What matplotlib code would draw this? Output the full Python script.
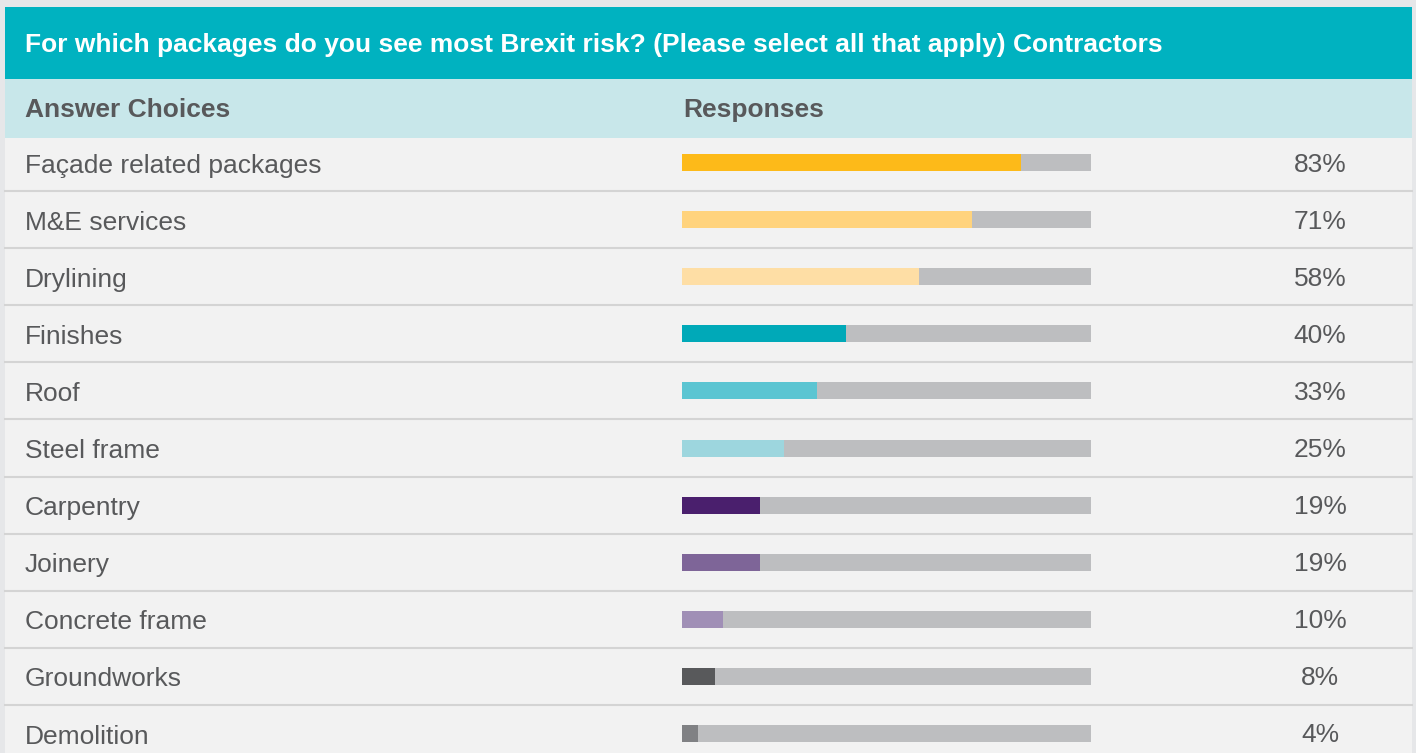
import numpy as np
import matplotlib
matplotlib.use("Agg")
import matplotlib.pyplot as plt
from matplotlib.patches import Rectangle

plt.rcParams['font.family'] = ['Liberation Sans', 'DejaVu Sans']

# data
title = "For which packages do you see most Brexit risk? (Please select all that apply) Contractors"
col_headers = ["Answer Choices", "Responses"]
choices = ["Façade related packages", "M&E services", "Drylining", "Finishes", "Roof",
           "Steel frame", "Carpentry", "Joinery", "Concrete frame", "Groundworks", "Demolition"]
responses = [83, 71, 58, 40, 33, 25, 19, 19, 10, 8, 4]
bar_colors = ["#fdba19", "#ffd37d", "#fedea5", "#00a9b8", "#5bc5d2", "#9dd6de",
              "#4a1f6d", "#7e6598", "#a08fb6", "#58595b", "#808184"]

W, H = 1416, 753
fig = plt.figure(figsize=(W / 100, H / 100), dpi=100)
fig.patch.set_facecolor("#e6e7e9")

ax = fig.add_axes([0, 0, 1, 1])
ax.set_xlim(0, W)
ax.set_ylim(H, 0)
ax.axis("off")

txt = "#58595b"
left, right = 5, 1412
fs = 19

# panel background, header and sub header
ax.add_patch(Rectangle((left, 7), right - left, H, color="#f2f2f2", lw=0))
ax.add_patch(Rectangle((left, 7), right - left, 72, color="#00b2c0", lw=0))
ax.add_patch(Rectangle((left, 79), right - left, 59, color="#c8e7ea", lw=0))
ax.text(25, 45, title, color="white", fontsize=fs, fontweight="bold", va="center")
ax.text(25, 110, col_headers[0], color=txt, fontsize=fs, fontweight="bold", va="center")
ax.text(683, 110, col_headers[1], color=txt, fontsize=fs, fontweight="bold", va="center")

row_h = 57.1
centers = 162.5 + row_h * np.arange(len(choices))

for i, (lab, v) in enumerate(zip(choices, responses)):
    y = centers[i]
    ax.text(25, y + 3, lab, color=txt, fontsize=fs, va="center")
    ax.text(1320, y + 2, f"{v}%", color=txt, fontsize=fs, va="center", ha="center")
    if i < len(choices) - 1:
        ax.plot([left, right], [y + row_h / 2, y + row_h / 2], color="#d4d4d4", lw=1.5)

# bars
bx = fig.add_axes([682 / W, 0, 409 / W, 1])
bx.set_xlim(0, 100)
bx.set_ylim(H, 0)
bx.axis("off")
bx.barh(centers, [100] * len(choices), height=17, color="#bdbec0", lw=0)
bx.barh(centers, responses, height=17, color=bar_colors, lw=0)

fig.savefig("out.png", dpi=100, facecolor=fig.get_facecolor())
